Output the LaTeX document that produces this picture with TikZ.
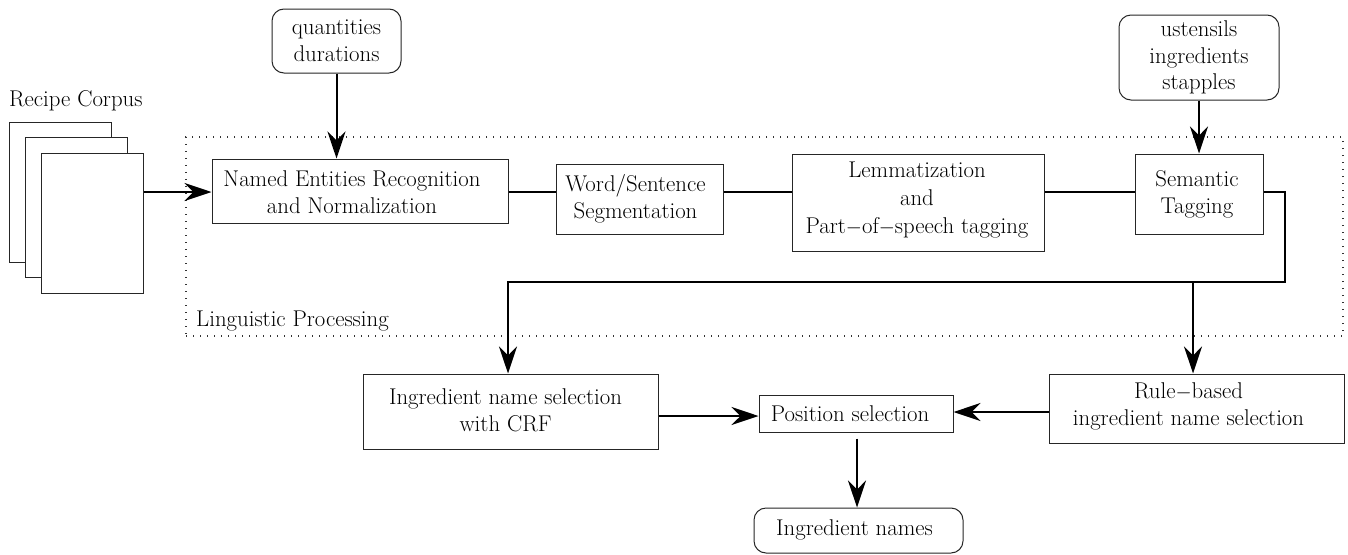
\documentclass[tikz,border=0pt]{standalone}
\usetikzlibrary{arrows.meta}
\tikzset{
  box/.style={draw=black!85, line width=1pt, fill=white, inner sep=0pt},
  rbox/.style={box, rounded corners=12pt},
  txt/.style={font=\rmfamily\fontsize{22.8}{26.8}\selectfont, align=center, inner sep=0pt},
  page/.style={draw=black!85, line width=1pt, fill=white, inner sep=0pt, minimum width=102pt, minimum height=140pt},
  conn/.style={line width=2pt, black},
  arr/.style={conn, -{Stealth[length=27pt, width=18pt, inset=9pt]}},
  frame/.style={draw=black!80, line width=1.1pt, dash pattern=on 1.2pt off 5.8pt},
}
\begin{document}
\begin{tikzpicture}[x=1pt, y=-1pt]
\useasboundingbox (0,0) rectangle (1348,554);

% Linguistic processing frame
\node[frame, minimum width=1157pt, minimum height=199pt, inner sep=0pt] (lp) at (764.5,236.5) {};
\node[txt, anchor=west] (lplab) at (196,321) {Linguistic Processing};

% corpus
\node[txt, anchor=west] (corpuslab) at (9,101) {Recipe Corpus};
\node[page] (p1) at (60,192) {};
\node[page] (p2) at (76,207.5) {};
\node[page] (p3) at (92,223.5) {};

% sources
\node[rbox, minimum width=129pt, minimum height=64pt, label={[txt]center:{quantities\\durations}}] (qd) at (336.5,41) {};
\node[rbox, minimum width=160pt, minimum height=85pt, label={[txt]center:{ustensils\\ingredients\\stapples}}] (ust) at (1199,57.5) {};

% pipeline
\node[box, minimum width=296pt, minimum height=64pt, label={[txt, xshift=-8pt, yshift=-1pt]center:{Named Entities Recognition\\and Normalization}}] (ner) at (360,191) {};
\node[box, minimum width=167pt, minimum height=70pt, label={[txt, xshift=-4pt]center:{Word/Sentence\\Segmentation}}] (ws) at (639.5,199) {};
\node[box, minimum width=252pt, minimum height=97pt, label={[txt, font=\rmfamily\fontsize{22.8}{28}\selectfont, xshift=-1pt, yshift=2pt]center:{Lemmatization\\and\\Part$-$of$-$speech tagging}}] (lem) at (918,202.5) {};
\node[box, minimum width=128pt, minimum height=80pt, label={[txt, xshift=-2pt]center:{Semantic\\Tagging}}] (sem) at (1199,194) {};

% selection
\node[box, minimum width=295pt, minimum height=75pt, label={[txt, xshift=-5pt, yshift=1pt]center:{Ingredient name selection\\with CRF}}] (crf) at (510.5,411.5) {};
\node[box, minimum width=295pt, minimum height=69pt, label={[txt, xshift=-8pt, yshift=2pt]center:{Rule$-$based\\ingredient name selection}}] (rule) at (1196.5,408.5) {};
\node[box, minimum width=194pt, minimum height=37pt, label={[txt, xshift=-6pt]center:{Position selection}}] (pos) at (856,413.5) {};
\node[rbox, minimum width=209pt, minimum height=45pt, label={[txt, xshift=-4pt, yshift=1pt]center:{Ingredient names}}] (ing) at (858.5,530.5) {};

% connectors
\draw[arr] (p3.east |- 0,192) -- (0,192 -| ner.west);
\draw[arr] (qd.south) -- (qd.south |- ner.north);
\draw[arr] (ust.south) -- (ust.south |- sem.north);
\draw[conn] (ner.east |- 0,191.5) -- (0,191.5 -| ws.west);
\draw[conn] (ws.east |- 0,191.5) -- (0,191.5 -| lem.west);
\draw[conn] (lem.east |- 0,191.5) -- (0,191.5 -| sem.west);
\coordinate (c1) at (1285,282);
\draw[arr] (sem.east |- 0,192) -| (c1) -- (c1 -| 508,0) -- (508,0 |- crf.north);
\draw[arr] (1193,282) -- (1193,0 |- rule.north);
\draw[arr] (crf.east |- 0,416) -- (0,416 -| pos.west);
\draw[arr] (rule.west |- 0,412) -- (0,412 -| pos.east);
\draw[arr, line width=1.6pt] ([yshift=-6pt]pos.south -| 857,0) -- (857,0 |- ing.north);
\end{tikzpicture}
\end{document}
